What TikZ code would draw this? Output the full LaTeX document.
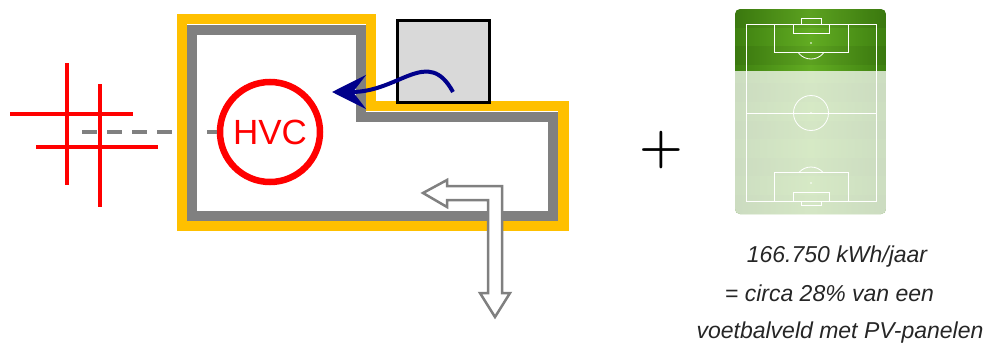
\documentclass[tikz,border=0pt]{standalone}
\usepackage{fontspec}
\setmainfont{Liberation Sans}
\newfontfamily\lmfont{Latin Modern Roman}
\usetikzlibrary{arrows.meta}

\definecolor{hvcred}{RGB}{255,0,0}
\definecolor{wallgray}{RGB}{128,128,128}
\definecolor{insyellow}{RGB}{255,192,0}
\definecolor{boxgray}{RGB}{217,217,217}
\definecolor{flownavy}{RGB}{0,0,139}
\definecolor{pitchedge}{RGB}{62,128,16}
\definecolor{pitchmid}{RGB}{98,172,34}
\tikzset{planview/.style={x=1pt,y=-1pt},
  netline/.style={hvcred,line width=4pt},
  dashlink/.style={wallgray,line width=3.5pt,dash pattern=on 15pt off 10pt},
  insulation/.style={insyellow,line width=10.5pt},
  wall/.style={wallgray,line width=10pt},
  storebox/.style={draw=black,fill=boxgray,line width=3pt,minimum width=92pt,minimum height=82pt},
  hvcring/.style={circle,draw=hvcred,line width=6.5pt,text=hvcred,minimum size=100pt,font=\fontsize{35}{35}\selectfont},
  flowarrow/.style={flownavy,line width=4pt,-{Stealth[length=34pt,width=34pt,inset=13pt]}},
  outflow/.style={wallgray,fill=white,line width=2.5pt,line join=miter},
  pitchline/.style={white,line width=0.8pt},
  captiontext/.style={anchor=base,text=black!85,font=\itshape\fontsize{23}{23}\selectfont}}

\begin{document}
\begin{tikzpicture}[planview]
    \useasboundingbox (0,0) rectangle (986,343);
    % grid connection
    \coordinate (net) at (82,132);
    \node[hvcring] (hvc) at (270,132) {HVC};
    \draw[dashlink] (net) -- (hvc.west);
    \draw[netline] (67,63) -- (67,185);
    \draw[netline] (100,84) -- (100,207);
    \draw[netline] (10,114) -- (133,114);
    \draw[netline] (36,147) -- (158,147);
    % building outline
    \draw[insulation] (182,19) -- (371,19) -- (371,106) -- (563.5,106) -- (563.5,225.5) -- (182,225.5) -- cycle;
    \draw[wall] (192,30) -- (361,30) -- (361,117) -- (553,117) -- (553,215.5) -- (192,215.5) -- cycle;
    \node[storebox] (store) at (443.5,61.5) {};
    % heat out of the building
    \draw[outflow] (423,193) -- (447,180) -- (447,186) -- (502,186) -- (502,293) -- (510,293)
      -- (495,317) -- (480,293) -- (488,293) -- (488,200) -- (447,200) -- (447,207) -- cycle;
    \coordinate (src) at (453,92);
    \coordinate (dst) at (332,92);
    \draw[flowarrow] (src) .. controls (428,46) and (400,92) .. (dst);

    \node[font=\lmfont\bfseries\fontsize{50}{50}\selectfont] (plus) at (661,150) {+};

    % football pitch
    \begin{scope}
      \clip[rounded corners=5pt] (735,9) rectangle (886,214);
      \shade[left color=pitchedge,right color=pitchedge,middle color=pitchmid] (735,9) rectangle (886,214);
      \foreach \i in {0,2,...,10}
        \fill[black,opacity=0.06] (735,{9+\i*18.6}) rectangle +(151,18.6);
      \begin{scope}[pitchline]
        \draw (746,24) rectangle (876,201);
        \draw (746,113) -- (876,113);
        \draw (811,113) circle (17.5);
        \draw (774,24) rectangle (848,52);
        \draw (793,24) rectangle (829,33);
        \draw (801,18) rectangle (821,24);
        \draw (774,172) rectangle (848,201);
        \draw (793,192) rectangle (829,201);
        \draw (801,201) rectangle (821,205);
        \foreach \y in {43,113,183} \fill[white] (811,\y) circle (0.9);
        \begin{scope}
          \clip (746,52) rectangle (876,70);
          \draw (811,43) circle (16);
        \end{scope}
        \begin{scope}
          \clip (746,155) rectangle (876,172);
          \draw (811,183) circle (16);
        \end{scope}
      \end{scope}
      \fill[white,opacity=0.74] (735,71) rectangle (886,214);
    \end{scope}

    \node[captiontext] (kwh) at (837,262) {166.750 kWh/jaar};
    \node[captiontext] (share) at (829.5,301) {= circa 28\% van een};
    \node[captiontext] (field) at (840,338) {voetbalveld met PV-panelen};
\end{tikzpicture}
\end{document}
